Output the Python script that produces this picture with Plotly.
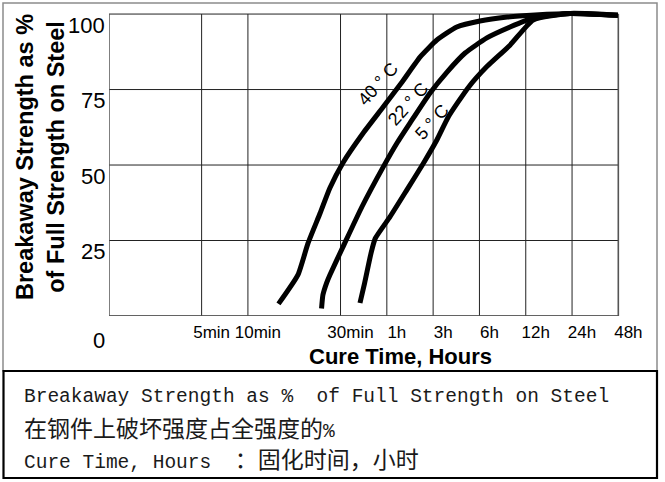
import plotly.graph_objects as go

# ---------------- data ----------------
x_tick_vals = [2, 3, 5, 6, 7, 8, 9, 10, 11]
x_tick_labels = ["5min", "10min", "30min", "1h", "3h", "6h", "12h", "24h", "48h"]
y_grid_vals = [0, 25, 50, 75, 100]
y_tick_labels = ["0", "25", "50", "75", "100"]

curve_names = ["40 ° C", "22 ° C", "5 ° C"]

c40_x = [3.66, 4.08, 4.30, 4.56, 4.77, 5.05, 5.49, 5.92, 6.33, 6.72, 7.08, 7.51, 8.01, 8.60, 9.20, 9.96, 10.99]
c40_y = [4.0, 13.6, 24.2, 34.1, 42.4, 50.7, 60.6, 69.2, 77.5, 85.8, 91.4, 95.7, 97.7, 99.0, 99.7, 100.2, 99.6]

c22_x = [4.59, 4.62, 4.70, 4.77, 5.05, 5.46, 5.92, 6.22, 6.50, 6.93, 7.30, 7.69, 8.16, 8.66, 9.16, 9.96, 10.99]
c22_y = [2.5, 7.0, 11.0, 13.6, 22.8, 36.1, 49.3, 57.3, 63.9, 73.8, 80.8, 87.1, 92.1, 95.7, 98.7, 100.2, 99.6]

c5_x = [5.42, 5.52, 5.66, 5.75, 6.07, 6.43, 6.79, 7.08, 7.33, 7.76, 8.16, 8.66, 9.16, 9.96, 10.99]
c5_y = [4.3, 10.9, 20.9, 25.7, 32.9, 41.7, 50.6, 58.3, 66.0, 75.7, 82.6, 89.7, 98.0, 100.2, 99.6]

note_line1 = "Breakaway Strength as %  of Full Strength on Steel"
note_line2_cn = "在钢件上破坏强度占全强度的"
note_line3_en = "Cure Time, Hours  "
note_line3_cn = "：固化时间，小时"

# ---------------- layout geometry ----------------
FIG_W, FIG_H = 665, 482
L, R, T, B = 109, 42, 5, 166
X_MAX, Y_MAX = 11.1, 103
PW = FIG_W - L - R
PH = FIG_H - T - B


def px2x(px):
    return (px - L) / PW


def px2y(py):
    return (FIG_H - B - py) / PH


SANS = "Liberation Sans, Arial, sans-serif"
MONO = "Liberation Mono, monospace"
CJK = "Noto Sans CJK SC"

fig = go.Figure()

for xs, ys, nm in [(c40_x, c40_y, curve_names[0]), (c22_x, c22_y, curve_names[1]), (c5_x, c5_y, curve_names[2])]:
    fig.add_trace(go.Scatter(x=xs, y=ys, mode="lines", name=nm,
                             line=dict(color="black", width=5, shape="spline", smoothing=0.5),
                             hoverinfo="skip"))

shapes = []
for xv in x_tick_vals:
    shapes.append(dict(type="line", xref="x", yref="y", x0=xv, x1=xv, y0=0, y1=100,
                       line=dict(color="#222", width=1), layer="below"))
for yv in y_grid_vals:
    shapes.append(dict(type="line", xref="x", yref="y", x0=0, x1=x_tick_vals[-1], y0=yv, y1=yv,
                       line=dict(color="#222", width=1), layer="below"))
shapes.append(dict(type="line", xref="x", yref="y", x0=0, x1=0, y0=0, y1=100,
                   line=dict(color="#555", width=1.5), layer="below"))
shapes.append(dict(type="line", xref="x", yref="y", x0=0, x1=x_tick_vals[-1], y0=0, y1=0,
                   line=dict(color="#555", width=1.5), layer="below"))
shapes.append(dict(type="line", xref="x", yref="y", x0=x_tick_vals[-1], x1=x_tick_vals[-1], y0=0, y1=100,
                   line=dict(color="#555", width=1.5), layer="below"))

shapes.append(dict(type="rect", xref="paper", yref="paper",
                   x0=px2x(3), x1=px2x(657), y0=px2y(371), y1=px2y(3),
                   line=dict(color="#8c8c8c", width=1.5), layer="below"))
shapes.append(dict(type="rect", xref="paper", yref="paper",
                   x0=px2x(3.5), x1=px2x(657), y0=px2y(478), y1=px2y(371),
                   line=dict(color="black", width=2.2), layer="above"))

annotations = []
for val, lab in zip(y_grid_vals, y_tick_labels):
    annotations.append(dict(xref="paper", yref="y", x=px2x(107), y=val, text=lab,
                            showarrow=False, xanchor="right", yanchor="middle",
                            yshift=-24 if lab == "0" else -11,
                            font=dict(family=SANS, size=22, color="black")))
annotations.append(dict(xref="paper", yref="paper", x=px2x(40), y=px2y(157),
                        text="<b>Breakaway Strength as %<br>of Full Strength on Steel</b>",
                        textangle=-90, showarrow=False, xanchor="center", yanchor="middle",
                        font=dict(family=SANS, size=23.5, color="black")))
annotations.append(dict(xref="paper", yref="paper", x=px2x(400), y=px2y(356),
                        text="<b>Cure Time, Hours</b>", showarrow=False,
                        xanchor="center", yanchor="middle",
                        font=dict(family=SANS, size=22, color="black")))
for (lx, ly), nm in zip([(5.81, 76.8), (6.46, 70.2), (6.98, 64.2)], curve_names):
    annotations.append(dict(xref="x", yref="y", x=lx, y=ly, text=nm, showarrow=False,
                            textangle=-48, xanchor="center", yanchor="middle",
                            font=dict(family=SANS, size=18, color="black")))
annotations.append(dict(xref="paper", yref="paper", x=px2x(22), y=px2y(397),
                        text=note_line1.replace(" ", "\u00a0"), showarrow=False,
                        xanchor="left", yanchor="middle",
                        font=dict(family=MONO, size=19.5, color="#1a1a1a")))
annotations.append(dict(xref="paper", yref="paper", x=px2x(22), y=px2y(427),
                        text=f'<span style="font-family:{CJK};font-size:23px">{note_line2_cn}</span>%',
                        showarrow=False, xanchor="left", yanchor="middle",
                        font=dict(family=MONO, size=19.5, color="#1a1a1a")))
annotations.append(dict(xref="paper", yref="paper", x=px2x(22), y=px2y(458),
                        text=note_line3_en.replace(" ", "\u00a0")
                        + f'<span style="font-family:{CJK};font-size:23px">{note_line3_cn}</span>',
                        showarrow=False, xanchor="left", yanchor="middle",
                        font=dict(family=MONO, size=19.5, color="#1a1a1a")))

fig.update_layout(
    width=FIG_W, height=FIG_H,
    margin=dict(l=L, r=R, t=T, b=B, pad=0),
    paper_bgcolor="white", plot_bgcolor="white",
    showlegend=False,
    shapes=shapes, annotations=annotations,
    xaxis=dict(range=[0, X_MAX], tickmode="array", tickvals=x_tick_vals, ticktext=x_tick_labels,
               showgrid=False, zeroline=False, showline=False, ticks="",
               ticklabelstandoff=4, ticklabelshift=10,
               tickfont=dict(family=SANS, size=17, color="black")),
    yaxis=dict(range=[0, Y_MAX], showgrid=False, zeroline=False, showline=False,
               showticklabels=False, ticks=""),
)

fig.write_html("out.html", config={"displayModeBar": False},
               post_script="document.body.style.margin='0';document.body.style.overflow='hidden';")
